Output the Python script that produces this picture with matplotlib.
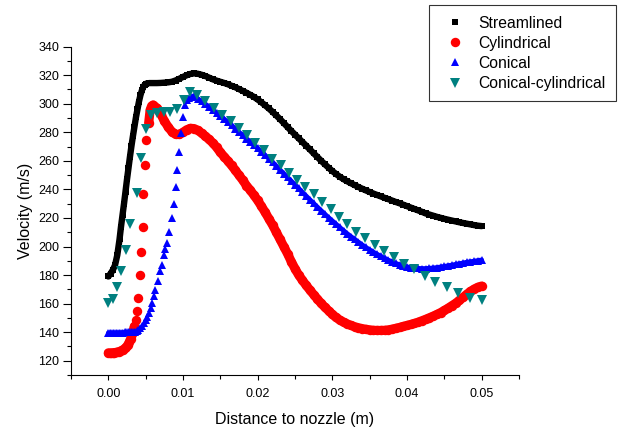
import matplotlib
matplotlib.use("Agg")
import matplotlib.pyplot as plt
from matplotlib.ticker import MultipleLocator

plt.rcParams["font.family"] = ["Liberation Sans", "DejaVu Sans"]

# Streamlined
streamlined_x = [
    0.0000, 0.0003, 0.0006, 0.0009, 0.0012, 0.0015, 0.0017, 0.0019, 0.0021, 0.0023,
    0.0025, 0.0027, 0.0029, 0.0031, 0.0033, 0.0035, 0.0037, 0.0039, 0.0041, 0.0043,
    0.0045, 0.0047, 0.0049, 0.0051,
    0.0055, 0.0060, 0.0065, 0.0070, 0.0075, 0.0080, 0.0085, 0.0090, 0.0095, 0.0100,
    0.0105, 0.0110, 0.0115, 0.0120, 0.0125, 0.0130, 0.0135, 0.0140, 0.0145, 0.0150,
    0.0155, 0.0160, 0.0165, 0.0170, 0.0175, 0.0180, 0.0185, 0.0190, 0.0195, 0.0200,
    0.0205, 0.0210, 0.0215, 0.0220, 0.0225, 0.0230, 0.0235, 0.0240, 0.0245, 0.0250,
    0.0255, 0.0260, 0.0265, 0.0270, 0.0275, 0.0280, 0.0285, 0.0290, 0.0295, 0.0300,
    0.0305, 0.0310, 0.0315, 0.0320, 0.0325, 0.0330, 0.0335, 0.0340, 0.0345, 0.0350,
    0.0355, 0.0360, 0.0365, 0.0370, 0.0375, 0.0380, 0.0385, 0.0390, 0.0395, 0.0400,
    0.0405, 0.0410, 0.0415, 0.0420, 0.0425, 0.0430, 0.0435, 0.0440, 0.0445, 0.0450,
    0.0455, 0.0460, 0.0465, 0.0470, 0.0475, 0.0480, 0.0485, 0.0490, 0.0495, 0.0500,
]
streamlined_y = [
    179.0, 181.0, 183.5, 187.0, 194.0, 205.0, 214.0, 222.0, 230.0, 238.5,
    247.0, 255.0, 263.0, 270.5, 277.5, 284.0, 290.5, 296.0, 301.5, 306.0,
    309.5, 312.0, 313.5, 314.2,
    314.5, 314.5, 314.5, 314.6, 314.8, 315.0, 315.4, 316.3, 317.5, 318.8,
    320.0, 320.9, 321.3, 321.0, 320.3, 319.4, 318.3, 317.1, 316.2, 315.4,
    314.6, 313.7, 312.6, 311.6, 310.3, 309.0, 307.7, 306.3, 304.8, 303.0,
    301.0, 298.9, 296.7, 294.3, 291.8, 289.2, 286.5, 283.7, 281.0, 278.4,
    275.8, 273.2, 270.6, 268.0, 265.3, 262.7, 260.1, 257.6, 255.2, 252.9,
    250.8, 248.9, 247.2, 245.7, 244.3, 243.0, 241.7, 240.5, 239.3, 238.2,
    237.1, 236.1, 235.1, 234.1, 233.2, 232.2, 231.2, 230.3, 229.3, 228.3,
    227.3, 226.3, 225.3, 224.3, 223.2, 222.4, 221.6, 220.8, 220.1, 219.4,
    218.8, 218.2, 217.6, 217.0, 216.5, 216.0, 215.5, 215.0, 214.6, 214.3,
]

# Cylindrical
cylindrical_x = [
    0.0000, 0.0002, 0.0004, 0.0006, 0.0008, 0.0010, 0.0012, 0.0014, 0.0016, 0.0018,
    0.0020, 0.0022, 0.0024, 0.0026, 0.0028, 0.0030, 0.0032, 0.0035, 0.0037, 0.0039,
    0.0040, 0.0042, 0.0044, 0.0046, 0.0047, 0.0049, 0.0051, 0.0054, 0.0056, 0.0058,
    0.0060,
    0.0065, 0.0070, 0.0075, 0.0080, 0.0085, 0.0090, 0.0095, 0.0100, 0.0105, 0.0110,
    0.0115, 0.0120, 0.0125, 0.0130, 0.0135, 0.0140, 0.0145, 0.0150, 0.0155, 0.0160,
    0.0165, 0.0170, 0.0175, 0.0180, 0.0185, 0.0190, 0.0195, 0.0200, 0.0205, 0.0210,
    0.0215, 0.0220, 0.0225, 0.0230, 0.0235, 0.0240, 0.0245, 0.0250, 0.0255, 0.0260,
    0.0265, 0.0270, 0.0275, 0.0280, 0.0285, 0.0290, 0.0295, 0.0300, 0.0305, 0.0310,
    0.0315, 0.0320, 0.0325, 0.0330, 0.0335, 0.0340, 0.0345, 0.0350, 0.0355, 0.0360,
    0.0365, 0.0370, 0.0375, 0.0380, 0.0385, 0.0390, 0.0395, 0.0400, 0.0405, 0.0410,
    0.0415, 0.0420, 0.0425, 0.0430, 0.0435, 0.0440, 0.0445, 0.0450, 0.0455, 0.0460,
    0.0465, 0.0470, 0.0475, 0.0480, 0.0485, 0.0490, 0.0495, 0.0500,
]
cylindrical_y = [
    125.5, 125.5, 125.5, 125.6, 125.7, 125.8, 126.0, 126.3, 126.7, 127.2,
    127.8, 128.6, 129.6, 131.0, 133.0, 135.5, 139.0, 144.0, 148.5, 155.0,
    164.0, 180.0, 196.5, 214.0, 237.0, 257.0, 274.7, 286.4, 295.7, 298.5,
    299.2,
    297.0, 293.0, 288.0, 283.8, 280.5, 278.6, 278.5, 280.0, 281.8, 282.8,
    282.6, 281.3, 279.4, 277.3, 275.0, 272.5, 269.5, 266.0, 263.0, 260.0,
    256.8, 253.5, 250.0, 246.5, 242.7, 239.5, 236.0, 232.3, 228.3, 224.0,
    219.5, 215.0, 210.0, 205.0, 200.0, 195.0, 189.5, 184.5, 180.0, 176.3,
    172.8, 169.5, 166.3, 163.2, 160.2, 157.5, 155.0, 152.5, 150.3, 148.5,
    147.0, 145.8, 144.7, 143.8, 143.1, 142.5, 142.0, 141.6, 141.3, 141.2,
    141.2, 141.3, 141.6, 142.1, 142.7, 143.3, 144.0, 144.7, 145.4, 146.1,
    147.0, 148.0, 149.0, 150.1, 151.2, 152.4, 153.7, 155.2, 156.8, 158.5,
    160.2, 162.2, 164.3, 166.5, 168.5, 170.2, 171.5, 172.3,
]

# Conical
conical_x = [
    0.0000, 0.0002, 0.0004, 0.0006, 0.0008, 0.0010, 0.0012, 0.0014, 0.0016, 0.0018,
    0.0020, 0.0022, 0.0024, 0.0026, 0.0028, 0.0030, 0.0032, 0.0034,
    0.0036, 0.0038, 0.0040, 0.0042, 0.0045, 0.0048, 0.0050, 0.0052, 0.0054, 0.0057,
    0.0059, 0.0061, 0.0063, 0.0066, 0.0069, 0.0072, 0.0074, 0.0076, 0.0078, 0.0081,
    0.0085, 0.0088, 0.0091, 0.0092, 0.0094, 0.0097, 0.0100, 0.0103, 0.0106, 0.0108,
    0.0112, 0.0115,
    0.0120, 0.0125, 0.0130, 0.0135, 0.0140, 0.0145, 0.0150, 0.0155, 0.0160, 0.0165,
    0.0170, 0.0175, 0.0180, 0.0185, 0.0190, 0.0195, 0.0200, 0.0205, 0.0210, 0.0215,
    0.0220, 0.0225, 0.0230, 0.0235, 0.0240, 0.0245, 0.0250, 0.0255, 0.0260, 0.0265,
    0.0270, 0.0275, 0.0280, 0.0285, 0.0290, 0.0295, 0.0300, 0.0305, 0.0310, 0.0315,
    0.0320, 0.0325, 0.0330, 0.0335, 0.0340, 0.0345, 0.0350, 0.0355, 0.0360, 0.0365,
    0.0370, 0.0375, 0.0380, 0.0385, 0.0390, 0.0395, 0.0400, 0.0405, 0.0410, 0.0415,
    0.0420, 0.0425, 0.0430, 0.0435, 0.0440, 0.0445, 0.0450, 0.0455, 0.0460, 0.0465,
    0.0470, 0.0475, 0.0480, 0.0485, 0.0490, 0.0495, 0.0500,
]
conical_y = [
    139.5, 139.5, 139.5, 139.5, 139.5, 139.5, 139.6, 139.6, 139.6, 139.7,
    139.7, 139.8, 139.8, 139.9, 140.0, 140.0, 140.1, 140.2,
    140.4, 141.0, 141.8, 142.6, 144.0, 146.5, 148.7, 150.8, 153.4, 157.0,
    160.5, 165.0, 169.7, 175.5, 182.5, 187.2, 194.2, 198.0, 202.4, 210.5,
    220.0, 229.5, 242.0, 253.7, 266.5, 279.4, 290.6, 299.2, 302.5, 303.9,
    305.0, 305.3,
    303.5, 301.8, 299.8, 297.8, 295.8, 293.6, 291.5, 289.4, 287.2, 285.0,
    282.6, 280.2, 277.9, 275.6, 273.4, 271.1, 268.8, 266.4, 264.0, 261.6,
    259.1, 256.4, 253.7, 251.1, 248.5, 245.9, 243.3, 240.7, 238.0, 235.4,
    232.8, 230.2, 227.7, 225.2, 222.7, 220.3, 218.0, 215.7, 213.4, 211.2,
    209.0, 207.0, 205.0, 203.1, 201.2, 199.4, 197.7, 196.1, 194.6, 193.2,
    191.8, 190.5, 189.3, 188.2, 187.3, 186.5, 185.8, 185.3, 184.9, 184.7,
    184.6, 184.6, 184.8, 185.0, 185.3, 185.7, 186.1, 186.6, 187.0, 187.5,
    188.0, 188.5, 189.0, 189.4, 189.8, 190.2, 190.6,
]

# Conical-cylindrical
conical_cyl_x = [
    0.0000, 0.0006, 0.0011, 0.0017, 0.0024, 0.0029, 0.0038, 0.0044, 0.0051, 0.0057,
    0.0065, 0.0074, 0.0083, 0.0092, 0.0101, 0.0110, 0.0119, 0.0130, 0.0141, 0.0152,
    0.0164, 0.0175, 0.0186, 0.0197, 0.0208, 0.0219, 0.0231, 0.0242, 0.0253, 0.0264,
    0.0275, 0.0286, 0.0298, 0.0309, 0.0320, 0.0332, 0.0344, 0.0357, 0.0369, 0.0383,
    0.0396, 0.0410, 0.0424, 0.0438, 0.0453, 0.0468, 0.0484, 0.0500,
]
conical_cyl_y = [
    160.4, 163.2, 171.6, 183.0, 197.7, 215.9, 237.4, 261.9, 282.2, 292.2,
    293.8, 294.5, 294.5, 296.2, 302.7, 308.5, 306.2, 302.0, 297.2, 292.3,
    287.7, 283.0, 278.2, 272.6, 267.3, 261.6, 256.8, 251.6, 246.8, 241.6,
    236.6, 231.0, 226.2, 220.5, 215.5, 210.5, 206.0, 201.2, 197.0, 192.8,
    187.9, 184.0, 179.5, 175.2, 171.3, 167.4, 163.9, 162.7,
]

fig = plt.figure(figsize=(6.19, 4.29), dpi=100)
ax = fig.add_axes([0.1147, 0.1259, 0.7237, 0.7653])

# dense parts of the series look like a solid band in the original,
# so a thick line in the marker colour is laid under those stretches
def band(x, y, parts, color, lw):
    for a, b in parts:
        ax.plot(x[a:b], y[a:b], "-", lw=lw, color=color,
                solid_capstyle="round", solid_joinstyle="round")

band(streamlined_x, streamlined_y, [(0, None)], "black", 4.6)
ax.plot(streamlined_x, streamlined_y, linestyle="none", marker="s", ms=5.0,
        mew=0, color="black", label="Streamlined")

band(cylindrical_x, cylindrical_y, [(0, 18), (27, None)], "#ff0000", 6.6)
ax.plot(cylindrical_x, cylindrical_y, linestyle="none", marker="o", ms=6.8,
        mew=0, color="#ff0000", label="Cylindrical")

band(conical_x, conical_y, [(0, 19), (48, None)], "#0000ff", 3.4)
ax.plot(conical_x, conical_y, linestyle="none", marker="^", ms=6.0,
        mew=0, color="#0000ff", label="Conical")

ax.plot(conical_cyl_x, conical_cyl_y, linestyle="none", marker="v", ms=7.2,
        mew=0, color="#008080", label="Conical-cylindrical")

ax.set_xlim(-0.005, 0.055)
ax.set_ylim(110, 340)
ax.xaxis.set_minor_locator(MultipleLocator(0.005))
ax.yaxis.set_minor_locator(MultipleLocator(10))
ax.set_xticks([0.0, 0.01, 0.02, 0.03, 0.04, 0.05])
ax.set_xticklabels(["0.00", "0.01", "0.02", "0.03", "0.04", "0.05"])
ax.set_yticks(range(120, 341, 20))

for side in ["top", "right"]:
    ax.spines[side].set_visible(False)
for side in ["left", "bottom"]:
    ax.spines[side].set_linewidth(0.8)
ax.tick_params(axis="x", which="major", direction="out", length=3.6, width=0.8,
               labelsize=9, pad=5.8)
ax.tick_params(axis="x", which="minor", direction="out", length=2.8, width=0.8)
ax.tick_params(axis="y", which="major", direction="out", length=5.5, width=0.8,
               labelsize=9, pad=3)
ax.tick_params(axis="y", which="minor", direction="out", length=2.6, width=0.8)

ax.set_xlabel("Distance to nozzle (m)", fontsize=11.5, labelpad=8.3)
ax.set_ylabel("Velocity (m/s)", fontsize=11.5, labelpad=4)

leg = fig.legend(loc="upper left", bbox_to_anchor=(0.693, 0.988),
                 frameon=True, fancybox=False, edgecolor="black",
                 fontsize=11.3, numpoints=1, handlelength=2.0,
                 handletextpad=0.46, labelspacing=0.33, borderpad=0.66,
                 borderaxespad=0)
leg.get_frame().set_linewidth(0.8)

fig.savefig("out.png", dpi=100)
